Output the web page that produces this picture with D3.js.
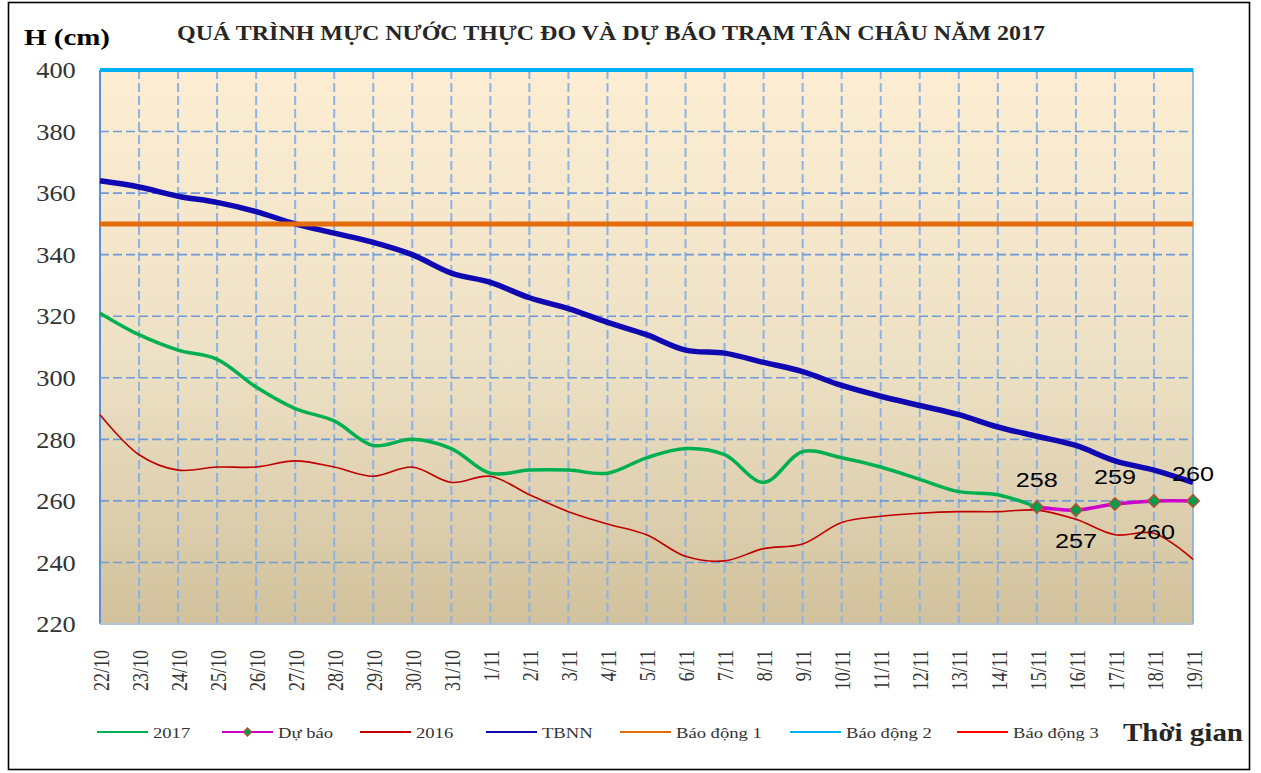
<!DOCTYPE html>
<html>
<head>
<meta charset="utf-8">
<script src="https://cdn.jsdelivr.net/npm/d3@7"></script>
<style>
body{margin:0;background:#fff}
</style>
</head>
<body>
<div id="chart"></div>
<script>
// data
var dates=["22/10","23/10","24/10","25/10","26/10","27/10","28/10","29/10","30/10","31/10",
  "1/11","2/11","3/11","4/11","5/11","6/11","7/11","8/11","9/11","10/11",
  "11/11","12/11","13/11","14/11","15/11","16/11","17/11","18/11","19/11"];
var yTicks=[220,240,260,280,300,320,340,360,380,400];
// 2017 observed, 22/10 -> 15/11
var obs2017=[321,314,309,306,297,290,286,278,280,277,269,270,270,269,274,277,275,266,276,274,271,267,263,262,258];
// forecast, 15/11 -> 19/11
var forecast=[258,257,259,260,260];
var obs2016=[288,275,270,271,271,273,271,268,271,266,268,262,256.5,252.5,249,242,240.5,244.5,246,253,255,256,256.5,256.5,257,254,249,249.5,241];
var tbnn=[364,362,359,357,354,350,347,344,340,334,331,326,322.5,318,314,309,308,305,302,297.5,294,291,288,284,281,278,273,270,266];
var alarm1=350, alarm2=400, alarm3=450;
var legendNames=["2017","Dự báo","2016","TBNN","Báo động 1","Báo động 2","Báo động 3"];

var W=1261, H=773;
var margin={top:70,right:68,bottom:149,left:100};
var width=W-margin.left-margin.right,
    height=H-margin.top-margin.bottom;
var serif="'Liberation Serif','Times New Roman',serif";
var sans="'Liberation Sans',Arial,sans-serif";

var svg=d3.select("#chart").append("svg")
    .attr("width",W).attr("height",H)
    .style("background","#fff");

// outer frame
svg.append("rect")
    .attr("x",8.5).attr("y",2.5).attr("width",1241).attr("height",767)
    .attr("fill","none").attr("stroke","#000").attr("stroke-width",1.6);

var defs=svg.append("defs");
var grad=defs.append("linearGradient").attr("id","bg")
    .attr("x1",0).attr("y1",0).attr("x2",0).attr("y2",1);
grad.append("stop").attr("offset","0%").attr("stop-color","#fdeed3");
grad.append("stop").attr("offset","55%").attr("stop-color","#ece0c4");
grad.append("stop").attr("offset","100%").attr("stop-color","#d1c19c");
defs.append("clipPath").attr("id","clip").append("rect")
    .attr("x",-3).attr("y",-4).attr("width",width+6).attr("height",height+8);

var x=d3.scalePoint().domain(dates).range([0,width]);
var y=d3.scaleLinear().domain([220,400]).range([height,0]);

var g=svg.append("g")
    .attr("transform","translate("+margin.left+","+margin.top+")");

// plot background
g.append("rect").attr("width",width).attr("height",height).attr("fill","url(#bg)");

// grid
g.append("g").selectAll("line")
    .data(dates.slice(1,-1))
  .enter().append("line")
    .attr("x1",function(d){return x(d);}).attr("x2",function(d){return x(d);})
    .attr("y1",0).attr("y2",height)
    .attr("stroke","#8cb2e6").attr("stroke-width",2).attr("stroke-dasharray","9,4");
g.append("g").selectAll("line")
    .data(yTicks.slice(1,-1))
  .enter().append("line")
    .attr("x1",0).attr("x2",width)
    .attr("y1",function(d){return y(d);}).attr("y2",function(d){return y(d);})
    .attr("stroke","#6f9ad8").attr("stroke-width",1.6).attr("stroke-dasharray","9,4");

// frame lines of plot
g.append("line").attr("x1",0).attr("x2",0).attr("y1",0).attr("y2",height)
    .attr("stroke","#5b8fd6").attr("stroke-width",2);
g.append("line").attr("x1",width).attr("x2",width).attr("y1",0).attr("y2",height)
    .attr("stroke","#7fa7e0").attr("stroke-width",1.5);
g.append("line").attr("x1",0).attr("x2",width).attr("y1",height).attr("y2",height)
    .attr("stroke","#b4c3d6").attr("stroke-width",2);

// Y axis
var yAxis=g.append("g")
    .call(d3.axisLeft(y).tickValues(yTicks).tickSize(0).tickPadding(22));
yAxis.select(".domain").remove();
yAxis.selectAll("text")
    .attr("font-family",serif).attr("font-size",24).attr("fill","#333")
    .attr("transform","scale(1.1,1)");

// X axis
var xAxis=g.append("g")
    .attr("transform","translate(0,"+height+")")
    .call(d3.axisBottom(x).tickSize(0).tickPadding(0));
xAxis.select(".domain").remove();
xAxis.selectAll("text")
    .attr("font-family",serif).attr("font-size",18).attr("fill","#333")
    .attr("x",0).attr("y",0).attr("dy","0.35em")
    .attr("text-anchor","end")
    .attr("transform","translate(0,26) scale(1.3,1) rotate(-90)");

// series
var line=d3.line()
    .x(function(d){return x(d.date);})
    .y(function(d){return y(d.value);})
    .curve(d3.curveCatmullRom.alpha(0.5));
function toPts(vals,start){
    return vals.map(function(v,i){return {date:dates[start+i],value:v};});
}
function constPts(v){
    return dates.map(function(d){return {date:d,value:v};});
}
var lines=g.append("g").attr("clip-path","url(#clip)");

lines.append("path").datum(constPts(alarm3))
    .attr("d",line).attr("fill","none").attr("stroke","#ff0000").attr("stroke-width",2);
lines.append("path").datum(toPts(obs2016,0))
    .attr("d",line).attr("fill","none").attr("stroke","#c00000").attr("stroke-width",1.6);
lines.append("path").datum(toPts(obs2017,0))
    .attr("d",line).attr("fill","none").attr("stroke","#00b050").attr("stroke-width",3.5);
lines.append("path").datum(toPts(tbnn,0))
    .attr("d",line).attr("fill","none").attr("stroke","#1008b0").attr("stroke-width",5.5);
lines.append("path").datum(constPts(alarm1))
    .attr("d",line).attr("fill","none").attr("stroke","#e46c0a").attr("stroke-width",5);
lines.append("path").datum(constPts(alarm2))
    .attr("d",line).attr("fill","none").attr("stroke","#00b0f0").attr("stroke-width",4);

var fStart=dates.length-forecast.length;
var fPts=toPts(forecast,fStart);
g.append("path").datum(fPts)
    .attr("d",line).attr("fill","none").attr("stroke","#cc00cc").attr("stroke-width",3.5);

var diamond=d3.symbol().type(d3.symbolSquare).size(78);
g.append("g").selectAll("path")
    .data(fPts)
  .enter().append("path")
    .attr("d",diamond)
    .attr("transform",function(d){return "translate("+x(d.date)+","+y(d.value)+") rotate(45)";})
    .attr("fill","#00a04a").attr("stroke","#b0503a").attr("stroke-width",1.5);

// forecast value labels, alternating above / below
g.append("g").selectAll("text")
    .data(fPts)
  .enter().append("text")
    .attr("transform",function(d,i){
        var dy=(i%2===0)?-20:38;
        return "translate("+x(d.date)+","+(y(d.value)+dy)+") scale(1.2,1)";
    })
    .attr("text-anchor","middle")
    .attr("font-family",sans).attr("font-size",21).attr("fill","#000")
    .text(function(d){return d.value;});

// titles
svg.append("text")
    .attr("x",24).attr("y",45)
    .attr("font-family",serif).attr("font-size",24).attr("font-weight","bold")
    .attr("textLength",86).attr("lengthAdjust","spacingAndGlyphs")
    .text("H (cm)");
svg.append("text")
    .attr("x",177).attr("y",40)
    .attr("font-family",serif).attr("font-size",20).attr("font-weight","bold")
    .attr("fill","#262626")
    .attr("textLength",868).attr("lengthAdjust","spacingAndGlyphs")
    .text("QUÁ TRÌNH MỰC NƯỚC THỰC ĐO VÀ DỰ BÁO TRẠM TÂN CHÂU NĂM 2017");
svg.append("text")
    .attr("x",1123).attr("y",741)
    .attr("font-family",serif).attr("font-size",25).attr("font-weight","bold")
    .attr("fill","#262626")
    .attr("textLength",120).attr("lengthAdjust","spacingAndGlyphs")
    .text("Thời gian");

// legend
var legendColors=["#00b050","#cc00cc","#c00000","#1008b0","#e46c0a","#00b0f0","#ff0000"];
var legendX=[97,222,360,486,620,790,957];
var legend=svg.append("g").attr("transform","translate(0,732)");
var item=legend.selectAll("g")
    .data(legendNames)
  .enter().append("g")
    .attr("transform",function(d,i){return "translate("+legendX[i]+",0)";});
item.append("line")
    .attr("x1",0).attr("x2",51).attr("y1",0).attr("y2",0)
    .attr("stroke",function(d,i){return legendColors[i];})
    .attr("stroke-width",2.2);
item.filter(function(d,i){return i===1;})
    .append("path")
    .attr("d",d3.symbol().type(d3.symbolSquare).size(34))
    .attr("transform","translate(25.5,0) rotate(45)")
    .attr("fill","#00a04a").attr("stroke","#b0503a").attr("stroke-width",1.2);
item.append("text")
    .attr("transform","translate(56,6) scale(1.2,1)")
    .attr("font-family",serif).attr("font-size",15.5).attr("fill","#333")
    .text(function(d){return d;});
</script>
</body>
</html>
